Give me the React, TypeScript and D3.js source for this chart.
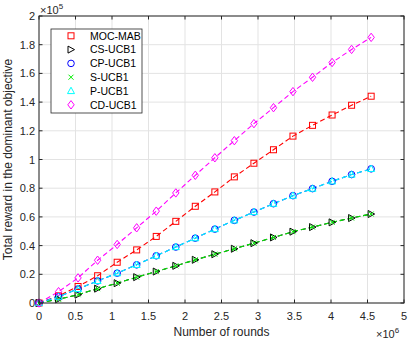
import React from "react";
import * as d3 from "d3";

const W = 409;
const H = 343;
const M = { left: 39, right: 404, top: 16, bottom: 303 };

// x in units of 1e6 rounds
const rounds = [0, 0.268, 0.535, 0.803, 1.071, 1.338, 1.606, 1.874, 2.141, 2.409, 2.676, 2.944, 3.212, 3.479, 3.747, 4.015, 4.282, 4.55];

// y in units of 1e5
const mocMab = [0, 0.05, 0.115, 0.19, 0.284, 0.37, 0.464, 0.569, 0.674, 0.774, 0.879, 0.974, 1.068, 1.163, 1.238, 1.31, 1.378, 1.441];
const csUcb1 = [0, 0.026, 0.058, 0.1, 0.138, 0.18, 0.219, 0.259, 0.301, 0.34, 0.378, 0.417, 0.457, 0.497, 0.529, 0.562, 0.592, 0.62];
const cpUcb1 = [0, 0.044, 0.098, 0.154, 0.208, 0.266, 0.329, 0.39, 0.452, 0.515, 0.576, 0.634, 0.692, 0.748, 0.797, 0.848, 0.895, 0.935];
const sUcb1 = [0, 0.026, 0.058, 0.1, 0.138, 0.18, 0.219, 0.259, 0.301, 0.34, 0.378, 0.417, 0.457, 0.497, 0.529, 0.562, 0.592, 0.62];
const pUcb1 = [0, 0.044, 0.098, 0.154, 0.208, 0.266, 0.329, 0.39, 0.452, 0.515, 0.576, 0.634, 0.692, 0.748, 0.797, 0.848, 0.895, 0.935];
const cdUcb1 = [0, 0.079, 0.175, 0.298, 0.408, 0.524, 0.64, 0.767, 0.89, 1.012, 1.131, 1.25, 1.361, 1.473, 1.573, 1.676, 1.767, 1.851];

const xTicks = [0, 0.5, 1, 1.5, 2, 2.5, 3, 3.5, 4, 4.5, 5];
const yTicks = [0, 0.2, 0.4, 0.6, 0.8, 1, 1.2, 1.4, 1.6, 1.8, 2];

type Marker = "square" | "triRight" | "circle" | "cross" | "triUp" | "diamond";

const series: { name: string; values: number[]; color: string; marker: Marker }[] = [
  { name: "MOC-MAB", values: mocMab, color: "#ff0000", marker: "square" },
  { name: "CS-UCB1", values: csUcb1, color: "#000000", marker: "triRight" },
  { name: "CP-UCB1", values: cpUcb1, color: "#0000ff", marker: "circle" },
  { name: "S-UCB1", values: sUcb1, color: "#00ee00", marker: "cross" },
  { name: "P-UCB1", values: pUcb1, color: "#00ffff", marker: "triUp" },
  { name: "CD-UCB1", values: cdUcb1, color: "#ff00ff", marker: "diamond" },
];

function MarkerShape({ type, x, y, color }: { type: Marker; x: number; y: number; color: string }) {
  const common = { fill: "none", stroke: color, strokeWidth: 1 };
  switch (type) {
    case "square":
      return <rect x={x - 3} y={y - 3} width={6} height={6} {...common} />;
    case "triRight":
      return <path d={`M${x - 3},${y - 3.5}L${x + 3.5},${y}L${x - 3},${y + 3.5}Z`} {...common} />;
    case "circle":
      return <circle cx={x} cy={y} r={3.3} {...common} />;
    case "cross":
      return <path d={`M${x - 2.5},${y - 2.5}L${x + 2.5},${y + 2.5}M${x - 2.5},${y + 2.5}L${x + 2.5},${y - 2.5}`} {...common} />;
    case "triUp":
      return <path d={`M${x},${y - 3.8}L${x + 3.5},${y + 2.6}L${x - 3.5},${y + 2.6}Z`} {...common} />;
    case "diamond":
      return <path d={`M${x},${y - 4.2}L${x + 3.2},${y}L${x},${y + 4.2}L${x - 3.2},${y}Z`} {...common} />;
  }
}

export default function App() {
  const x = d3.scaleLinear().domain([0, 5]).range([M.left, M.right]);
  const y = d3.scaleLinear().domain([0, 2]).range([M.bottom, M.top]);
  const font = "'Liberation Sans', Arial, Helvetica, sans-serif";
  const axisColor = "#262626";
  const gridColor = "#e3e3e3";

  const line = (vals: number[]) =>
    d3
      .line<number>()
      .x((_, i) => x(rounds[i]))
      .y((v) => y(v))(vals) as string;

  const legendX = 51;
  const legendY = 29;
  const rowH = 13.8;

  return (
    <svg width={W} height={H} style={{ position: "absolute", left: 0, top: 0, background: "#fff" }} fontFamily={font}>
      <rect x={0} y={0} width={W} height={H} fill="#fff" />
      {/* grid */}
      {xTicks.map((t) => (
        <line key={"gx" + t} x1={x(t)} x2={x(t)} y1={M.top} y2={M.bottom} stroke={gridColor} strokeWidth={1} />
      ))}
      {yTicks.map((t) => (
        <line key={"gy" + t} x1={M.left} x2={M.right} y1={y(t)} y2={y(t)} stroke={gridColor} strokeWidth={1} />
      ))}

      {/* series lines */}
      {series.map((s) => (
        <path key={"l" + s.name} d={line(s.values)} fill="none" stroke={s.color} strokeWidth={1.1} strokeDasharray="5,3" />
      ))}
      {/* markers */}
      {series.map((s) => (
        <g key={"m" + s.name}>
          {s.values.map((v, i) => (
            <MarkerShape key={i} type={s.marker} x={x(rounds[i])} y={y(v)} color={s.color} />
          ))}
        </g>
      ))}

      {/* axes box */}
      <rect x={M.left} y={M.top} width={M.right - M.left} height={M.bottom - M.top} fill="none" stroke={axisColor} strokeWidth={1} />
      {xTicks.map((t) => (
        <g key={"tx" + t}>
          <line x1={x(t)} x2={x(t)} y1={M.bottom} y2={M.bottom - 3.5} stroke={axisColor} />
          <line x1={x(t)} x2={x(t)} y1={M.top} y2={M.top + 3.5} stroke={axisColor} />
          <text x={x(t)} y={319.5} fontSize={11} textAnchor="middle" fill={axisColor}>
            {t}
          </text>
        </g>
      ))}
      {yTicks.map((t) => (
        <g key={"ty" + t}>
          <line x1={M.left} x2={M.left + 3.5} y1={y(t)} y2={y(t)} stroke={axisColor} />
          <line x1={M.right} x2={M.right - 3.5} y1={y(t)} y2={y(t)} stroke={axisColor} />
          <text x={35} y={y(t) + 4} fontSize={11} textAnchor="end" fill={axisColor}>
            {t}
          </text>
        </g>
      ))}

      {/* exponents */}
      <text x={40} y={14} fontSize={11} fill={axisColor}>
        ×10
        <tspan dy={-5} fontSize={8}>5</tspan>
      </text>
      <text x={376} y={338} fontSize={11} fill={axisColor}>
        ×10
        <tspan dy={-5} fontSize={8}>6</tspan>
      </text>

      {/* axis labels */}
      <text x={(M.left + M.right) / 2} y={336} fontSize={12} textAnchor="middle" fill={axisColor}>
        Number of rounds
      </text>
      <text
        transform={`translate(12, ${(M.top + M.bottom) / 2}) rotate(-90)`}
        fontSize={12}
        textAnchor="middle"
        fill={axisColor}
      >
        Total reward in the dominant objective
      </text>

      {/* legend */}
      <rect x={legendX} y={legendY} width={91} height={84} fill="#fff" stroke={axisColor} strokeWidth={0.8} />
      {series.map((s, i) => {
        const cy = legendY + 6.8 + i * rowH;
        return (
          <g key={"lg" + s.name}>
            <MarkerShape type={s.marker} x={71} y={cy} color={s.color} />
            <text x={90} y={cy + 3.8} fontSize={10.5} fill="#000">
              {s.name}
            </text>
          </g>
        );
      })}
    </svg>
  );
}
